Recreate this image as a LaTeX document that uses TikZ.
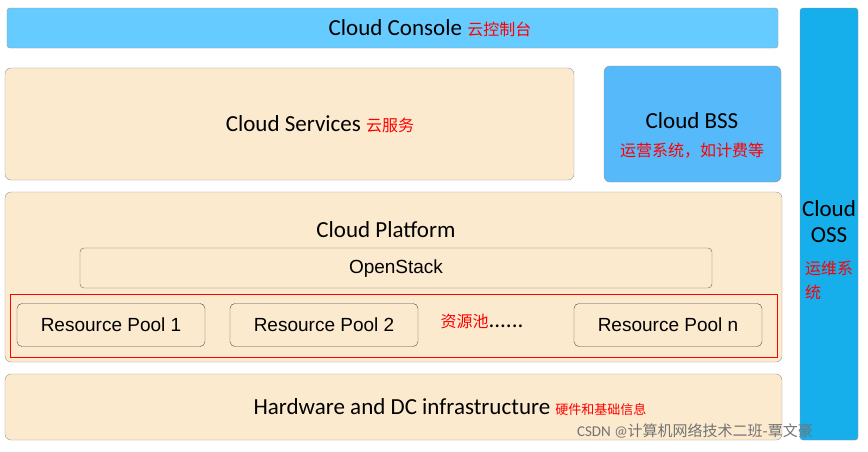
\documentclass[tikz,border=0pt]{standalone}
\usepackage{fontspec}
\setmainfont{Carlito}
\newfontfamily\cjk{Noto Sans CJK SC}
\newfontfamily\arial{Liberation Sans}
\definecolor{cloudBeige}{RGB}{252,234,206}
\definecolor{cloudSky}{RGB}{102,204,255}
\definecolor{cloudBlue}{RGB}{85,185,250}
\definecolor{cloudDeep}{RGB}{22,174,235}
\definecolor{edgeGray}{RGB}{150,150,150}
\begin{document}
\begin{tikzpicture}[x=1pt,y=-1pt]
\tikzstyle{every node}=[font=\fontsize{23}{26}\selectfont, text=black]
\tikzstyle{layer}=[draw=edgeGray,rounded corners=6pt,fill=cloudBeige]
\tikzstyle{pool}=[draw=black!70,rounded corners=5pt,fill=cloudBeige,minimum width=188pt,minimum height=43pt,font=\arial\fontsize{19}{22}\selectfont]
\newcommand{\zh}[1]{{\cjk\color{red}\fontsize{16}{18}\selectfont #1}}

\useasboundingbox (0,0) rectangle (868,451);
\fill[white] (0,0) rectangle (868,451);

% layers
\draw[layer,fill=cloudSky,rounded corners=3pt] (7,8) rectangle (778,48);
\node (console) at (430,28) {Cloud Console \zh{云控制台}};
\draw[layer] (5,68) rectangle (574,180);
\node (services) at (320,124) {Cloud Services \zh{云服务}};
\draw[layer,fill=cloudBlue] (604,66) rectangle (781,182);
\node[align=center] (bss) at (692,135) {Cloud BSS\\[2pt] \zh{运营系统，如计费等}};
\draw[layer,fill=cloudDeep,rounded corners=3pt] (800,8) rectangle (858,440);
\node[align=center] (oss) at (829,250) {Cloud\\OSS\\[6pt] \zh{运维系}\\[-2pt] \hspace*{-32pt}\zh{统}};

\draw[layer] (5,192) rectangle (782,362);
\node (platform) at (386,230) {Cloud Platform};
\draw[layer,draw=black!60,rounded corners=4pt] (80,248) rectangle (712,288);
\node[font=\arial\fontsize{19}{22}\selectfont] (openstack) at (396,269) {OpenStack};
\draw[red,thick] (10,294) rectangle (777,357);
\node[pool] (pool1) at (111,325) {Resource Pool 1};
\node[pool] (pool2) at (324,325) {Resource Pool 2};
\node[pool] (pooln) at (668,325) {Resource Pool n};
\node (dots) at (482,321) {\zh{资源池}......};

\draw[layer] (5,374) rectangle (782,440);
\node (hw) at (450,407) {Hardware and DC infrastructure \zh{\fontsize{13}{15}\selectfont 硬件和基础信息}};

\node[font=\fontsize{15}{17}\selectfont, text=black!55] (mark) at (695,431) {CSDN @{\cjk 计算机网络技术二班-覃文豪}};
\end{tikzpicture}
\end{document}
